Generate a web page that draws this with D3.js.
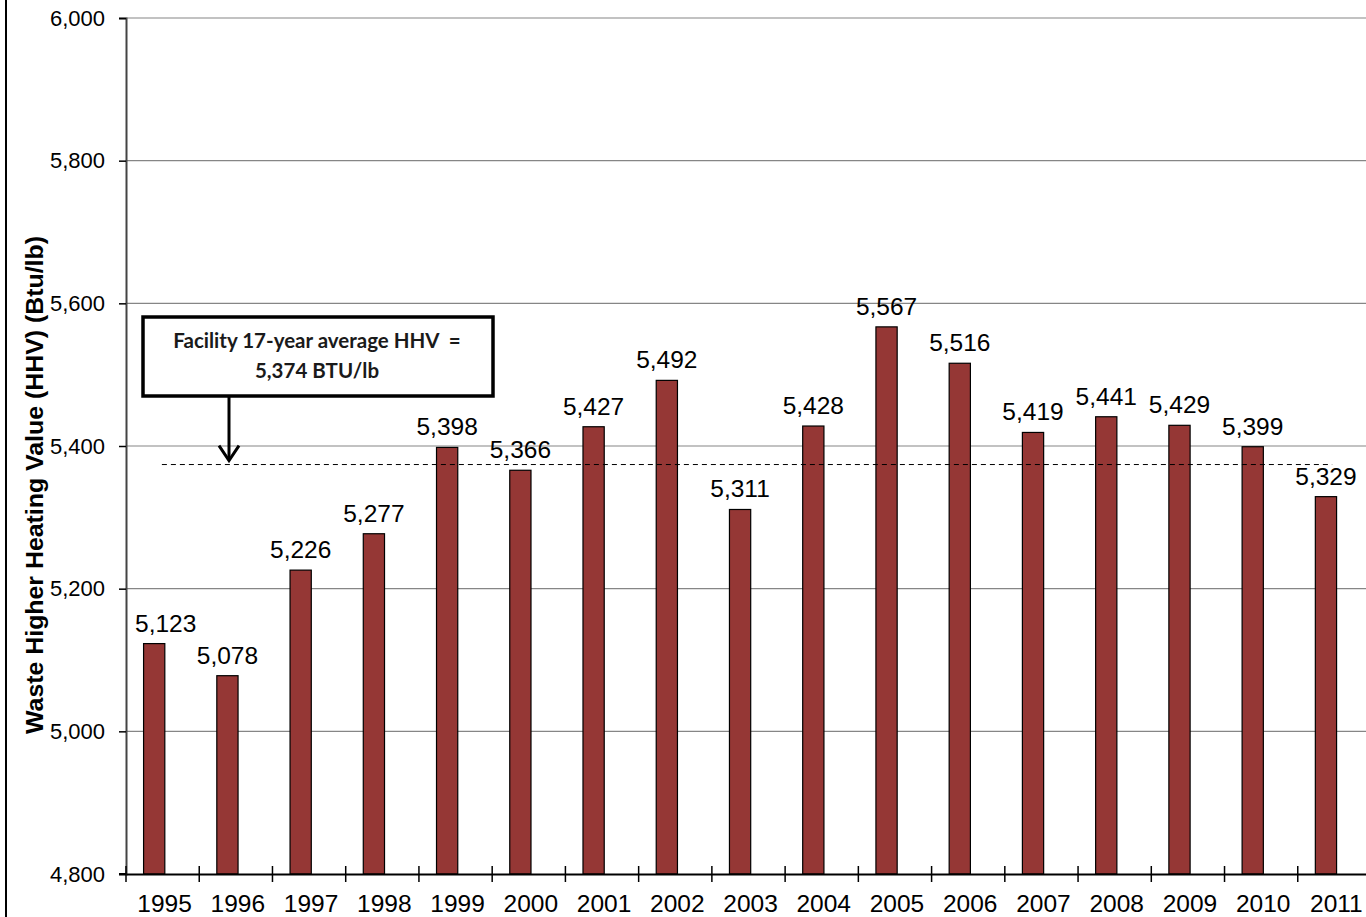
<!DOCTYPE html>
<html><head><meta charset="utf-8">
<script src="https://cdn.jsdelivr.net/npm/d3@7"></script>
<style>body{margin:0;background:#fff;overflow:hidden}svg{display:block}</style>
</head><body>
<svg id="c" width="1366" height="917"></svg>
<script>
const years = ["1995","1996","1997","1998","1999","2000","2001","2002","2003","2004","2005","2006","2007","2008","2009","2010","2011"];
const hhv = [5123,5078,5226,5277,5398,5366,5427,5492,5311,5428,5567,5516,5419,5441,5429,5399,5329];
const average = 5374;
const yTicks = [4800,5000,5200,5400,5600,5800,6000];
const yTitle = "Waste Higher Heating Value (HHV) (Btu/lb)";
const noteLines = ["Facility 17-year average HHV  =", "5,374 BTU/lb"];

(function(){
const svg = d3.select("#c");
const pL = 126, pR = 1371, pT = 18, pB = 874;
const x = d3.scaleBand().domain(years).range([pL, pR]).padding(0);
const y = d3.scaleLinear().domain([4800, 6000]).range([pB, pT]);
const step = x.step();
const fmt = d3.format(",");
const FONT = "'Liberation Sans', Arial, sans-serif";

// outer border
svg.append("line").attr("x1",6).attr("x2",6).attr("y1",0).attr("y2",917).attr("stroke","#000").attr("stroke-width",2);

// gridlines
svg.append("g").selectAll("line").data(yTicks.filter(t=>t>4800)).join("line")
  .attr("x1",pL).attr("x2",1366).attr("y1",d=>y(d)).attr("y2",d=>y(d))
  .attr("stroke","#868686").attr("stroke-width",1.2);

// y axis
const ya = svg.append("g").attr("transform",`translate(${pL},0)`)
  .call(d3.axisLeft(y).tickValues(yTicks).tickFormat(fmt).tickSize(7).tickPadding(14));
ya.select(".domain").attr("stroke","#444").attr("stroke-width",2);
ya.selectAll(".tick line").attr("stroke","#000").attr("stroke-width",1.5);
ya.selectAll("text").attr("font-family",FONT).attr("font-size",22).attr("fill","#000");

// bars
svg.append("g").selectAll("rect").data(hhv).join("rect")
  .attr("x",(d,i)=>x(years[i]) + step*0.24)
  .attr("width",step*0.29)
  .attr("y",d=>y(d))
  .attr("height",d=>pB - y(d))
  .attr("fill","#953735").attr("stroke","#000").attr("stroke-width",1.2);

// x axis
const xa = svg.append("g").attr("transform",`translate(0,${pB})`)
  .call(d3.axisBottom(x).tickSize(0).tickPadding(21));
xa.select(".domain").attr("stroke","#000").attr("stroke-width",2);
xa.selectAll("text").attr("font-family",FONT).attr("font-size",24.5).attr("fill","#000")
  .attr("dx",2);
svg.append("g").selectAll("line").data(years.map(d=>x(d)).concat([pR])).join("line")
  .attr("x1",d=>d).attr("x2",d=>d).attr("y1",pB-8).attr("y2",pB+8)
  .attr("stroke","#000").attr("stroke-width",1.5);
svg.append("line").attr("x1",119).attr("x2",pL).attr("y1",pB).attr("y2",pB).attr("stroke","#000").attr("stroke-width",2);

// data labels (kept clear of the y axis)
const labels = svg.append("g").selectAll("text").data(hhv).join("text")
  .attr("y",d=>y(d)-12)
  .attr("text-anchor","middle")
  .attr("font-family",FONT).attr("font-size",24.5).attr("fill","#000")
  .text(d=>fmt(d));
labels.attr("x",function(d,i){
  const c = x(years[i]) + step*0.385;
  const w = this.getComputedTextLength();
  return Math.max(c, pL + 9 + w/2);
});

// average dashed line
svg.append("line")
  .attr("x1",x(years[0]) + step*0.49).attr("x2",x(years[years.length-1]) + step*0.47)
  .attr("y1",y(average)).attr("y2",y(average))
  .attr("stroke","#000").attr("stroke-width",1).attr("stroke-dasharray","5,4");

// annotation box
const bx = 143, by = 317, bw = 350, bh = 79;
svg.append("rect").attr("x",bx).attr("y",by).attr("width",bw).attr("height",bh)
  .attr("fill","#fff").attr("stroke","#000").attr("stroke-width",3.5);
svg.append("g").selectAll("text").data(noteLines).join("text")
  .attr("x",bx+bw/2 - 1).attr("y",(d,i)=>by+31+i*30)
  .attr("text-anchor","middle").attr("font-family","Lato, 'Open Sans', sans-serif")
  .attr("font-weight","bold").attr("font-size",20.5).attr("fill","#1a1a1a")
  .style("white-space","pre")
  .text(d=>d);

// arrow
const ax = 229;
svg.append("line").attr("x1",ax).attr("x2",ax).attr("y1",by+bh).attr("y2",y(average)-6)
  .attr("stroke","#000").attr("stroke-width",3);
svg.append("path").attr("d",`M${ax-10},${y(average)-19} L${ax},${y(average)-4} L${ax+10},${y(average)-19}`)
  .attr("fill","none").attr("stroke","#000").attr("stroke-width",3);

// y title
svg.append("text").attr("transform",`translate(43,485) rotate(-90)`)
  .attr("text-anchor","middle").attr("font-family",FONT)
  .attr("font-weight","bold").attr("font-size",24).attr("fill","#000")
  .attr("textLength",498).attr("lengthAdjust","spacingAndGlyphs")
  .text(yTitle);
})();
</script>
</body></html>
